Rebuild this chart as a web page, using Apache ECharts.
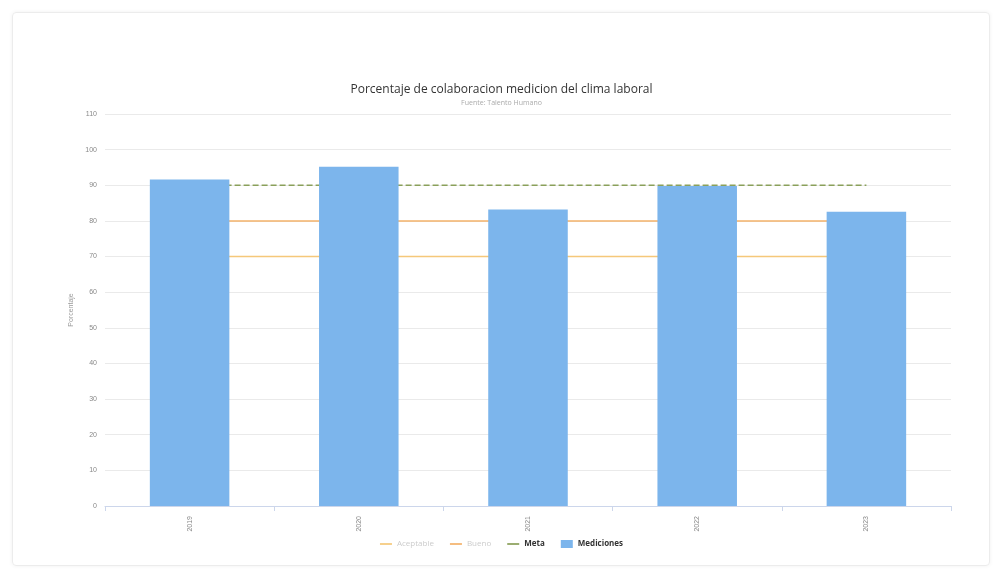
<!DOCTYPE html>
<html>
<head>
<meta charset="utf-8">
<script src="https://cdn.jsdelivr.net/npm/echarts@6/dist/echarts.min.js"></script>
<style>
  html, body { margin: 0; padding: 0; background: #fff; }
  #card {
    position: absolute; left: 12px; top: 12px; width: 976px; height: 552px;
    border: 1px solid #ececec; border-radius: 4px; box-shadow: 0 0 4px rgba(0,0,0,0.06);
  }
  #main { position: absolute; left: 0; top: 0; width: 1003px; height: 578px; }
</style>
</head>
<body>
<div id="card"></div>
<div id="main"></div>
<script>
// categorias (años de medicion)
const categories = ['2019', '2020', '2021', '2022', '2023'];
// porcentaje de colaboracion medido
const mediciones = [91.6, 95.2, 83.2, 89.8, 82.6];
// umbrales
const meta = [90, 90, 90, 90, 90];
const bueno = [80, 80, 80, 80, 80];
const aceptable = [70, 70, 70, 70, 70];
const yTicks = { min: 0, max: 110, interval: 10 };

const chart = echarts.init(document.getElementById('main'));

const lineIcon = 'path://M0,4 L14,4 L14,6 L0,6 Z';

function lineSeries(name, data, color, type) {
  return {
    name, type: 'line', data, z: 1,
    symbol: 'none', smooth: false,
    lineStyle: { color, width: 1.5, type },
    itemStyle: { color }
  };
}

chart.setOption({
  animation: false,
  title: {
    text: 'Porcentaje de colaboracion medicion del clima laboral',
    subtext: 'Fuente: Talento Humano',
    left: 'center', top: 79,
    itemGap: 3,
    textStyle: { fontFamily: 'Open Sans', fontSize: 12, fontWeight: 'normal', color: '#333' },
    subtextStyle: { fontFamily: 'Open Sans', fontSize: 7, color: '#aaa' }
  },
  legend: {
    bottom: 25, left: 'center',
    itemWidth: 12, itemHeight: 8, itemGap: 16,
    textStyle: { fontFamily: 'Open Sans', fontSize: 8, fontWeight: 'bold', color: '#333' },
    data: [
      { name: 'Aceptable', icon: lineIcon, textStyle: { color: '#ccc', fontWeight: 'normal' } },
      { name: 'Bueno', icon: lineIcon, textStyle: { color: '#ccc', fontWeight: 'normal' } },
      { name: 'Meta', icon: lineIcon },
      { name: 'Mediciones', icon: 'rect' }
    ]
  },
  grid: { left: 105, right: 52, top: 114, bottom: 72 },
  xAxis: {
    type: 'category',
    data: categories,
    axisLine: { lineStyle: { color: '#ccd6eb' } },
    axisTick: { show: true, alignWithLabel: false, lineStyle: { color: '#ccd6eb' } },
    axisLabel: { rotate: 90, fontSize: 7, color: '#888', margin: 10 }
  },
  yAxis: {
    type: 'value',
    min: yTicks.min, max: yTicks.max, interval: yTicks.interval,
    name: 'Porcentaje',
    nameLocation: 'middle', nameGap: 30, nameRotate: 90,
    nameTextStyle: { fontSize: 7, color: '#999' },
    axisLine: { show: false },
    axisTick: { show: false },
    axisLabel: { fontSize: 7, color: '#888' },
    splitLine: { lineStyle: { color: '#eaeaea' } }
  },
  series: [
    lineSeries('Aceptable', aceptable, '#f5c87a', 'solid'),
    lineSeries('Bueno', bueno, '#f4b26b', 'solid'),
    lineSeries('Meta', meta, '#8aa05a', [6, 3]),
    {
      name: 'Mediciones', type: 'bar', data: mediciones, z: 3,
      barWidth: '47%',
      itemStyle: { color: '#7cb5ec' }
    }
  ]
});
</script>
</body>
</html>
